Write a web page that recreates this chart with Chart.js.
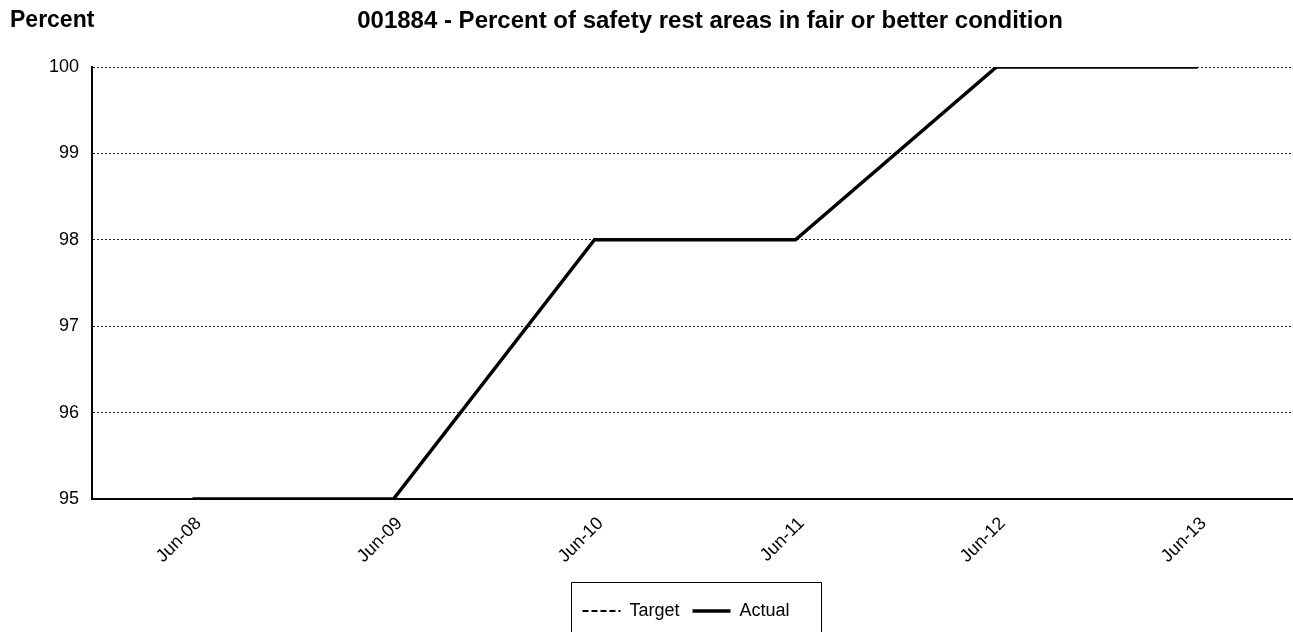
<!DOCTYPE html>
<html>
<head>
<meta charset="utf-8">
<script src="https://cdn.jsdelivr.net/npm/chart.js@4.4.0/dist/chart.umd.min.js"></script>
<style>
  html, body { margin: 0; padding: 0; background: #fff; overflow: hidden; }
  #wrap { position: relative; width: 1298px; height: 632px; }
</style>
</head>
<body>
<div id="wrap"><canvas id="chart"></canvas></div>
<script>
// chart data
const categories = ['Jun-08', 'Jun-09', 'Jun-10', 'Jun-11', 'Jun-12', 'Jun-13'];
const targetValues = [null, null, null, null, null, null];
const actualValues = [95, 95, 98, 98, 100, 100];
const yTicks = [95, 96, 97, 98, 99, 100];

const FONT = 'Arial, "Liberation Sans", sans-serif';

// headings drawn above the plot
const headingPlugin = {
  id: 'headings',
  afterDraw(chart) {
    const { ctx } = chart;
    ctx.save();
    ctx.fillStyle = '#000';
    ctx.textBaseline = 'middle';
    ctx.textAlign = 'left';
    ctx.font = `bold 23px ${FONT}`;
    ctx.fillText('Percent', 10, 21);
    ctx.textAlign = 'center';
    ctx.font = `bold 24px ${FONT}`;
    ctx.fillText('001884 - Percent of safety rest areas in fair or better condition', 710, 21);
    ctx.restore();
  },
};

// legend sits a bit right of centre, with a frame round it
const legendFramePlugin = {
  id: 'legendFrame',
  afterLayout(chart) {
    const lg = chart.legend;
    if (!lg) return;
    lg.left += 37;
    lg.right += 37;
  },
  afterDraw(chart) {
    const boxes = chart.legend && chart.legend.legendHitBoxes;
    if (!boxes || !boxes.length) return;
    const first = boxes[0];
    const last = boxes[boxes.length - 1];
    const { ctx } = chart;
    ctx.save();
    ctx.strokeStyle = '#000';
    ctx.lineWidth = 1;
    const left = Math.round(first.left - 11) + 0.5;
    const right = Math.round(last.left + last.width + 31) + 0.5;
    const top = 582.5;
    ctx.beginPath();
    ctx.moveTo(left, 640);
    ctx.lineTo(left, top);
    ctx.lineTo(right, top);
    ctx.lineTo(right, 640);
    ctx.stroke();
    ctx.restore();
  },
};

new Chart(document.getElementById('chart'), {
  type: 'line',
  data: {
    labels: categories,
    datasets: [
      {
        label: 'Target',
        data: targetValues,
        borderColor: '#000',
        borderWidth: 2,
        borderDash: [6, 3],
        pointRadius: 0,
        fill: false,
      },
      {
        label: 'Actual',
        data: actualValues,
        borderColor: '#000',
        borderWidth: 3.5,
        pointRadius: 0,
        fill: false,
        tension: 0,
      },
    ],
  },
  plugins: [headingPlugin, legendFramePlugin],
  options: {
    responsive: true,
    maintainAspectRatio: false,
    animation: false,
    layout: { padding: { top: 67, left: 0, right: 0, bottom: 2 } },
    plugins: {
      title: { display: false },
      tooltip: { enabled: false },
      legend: {
        position: 'bottom',
        labels: {
          color: '#000',
          font: { family: FONT, size: 18 },
          usePointStyle: true,
          pointStyle: 'line',
          boxWidth: 38,
          pointStyleWidth: 38,
          boxHeight: 18,
          padding: 13,
          generateLabels(chart) {
            return chart.data.datasets.map((ds, i) => ({
              text: ds.label,
              datasetIndex: i,
              fillStyle: '#000',
              strokeStyle: '#000',
              lineWidth: i === 0 ? 2 : 3.5,
              lineDash: i === 0 ? [6, 3] : [],
              pointStyle: 'line',
              hidden: false,
              fontColor: '#000',
            }));
          },
        },
      },
    },
    scales: {
      x: {
        offset: true,
        grid: { display: false, drawTicks: false },
        border: { display: true, color: '#000', width: 2 },
        ticks: {
          color: '#000',
          font: { family: FONT, size: 18 },
          minRotation: 45,
          maxRotation: 45,
          padding: 14,
          labelOffset: 6,
        },
        afterFit(scale) { scale.height = 90; },
      },
      y: {
        min: 95,
        max: 100,
        afterBuildTicks(scale) { scale.ticks = yTicks.map((v) => ({ value: v })); },
        grid: {
          color: '#222',
          lineWidth: 1,
          drawTicks: false,
        },
        border: { display: true, color: '#000', width: 2, dash: [2, 2] },
        ticks: {
          color: '#000',
          font: { family: FONT, size: 18 },
          padding: 13,
        },
        afterFit(scale) { scale.width = 92; },
      },
    },
  },
});
</script>
</body>
</html>
